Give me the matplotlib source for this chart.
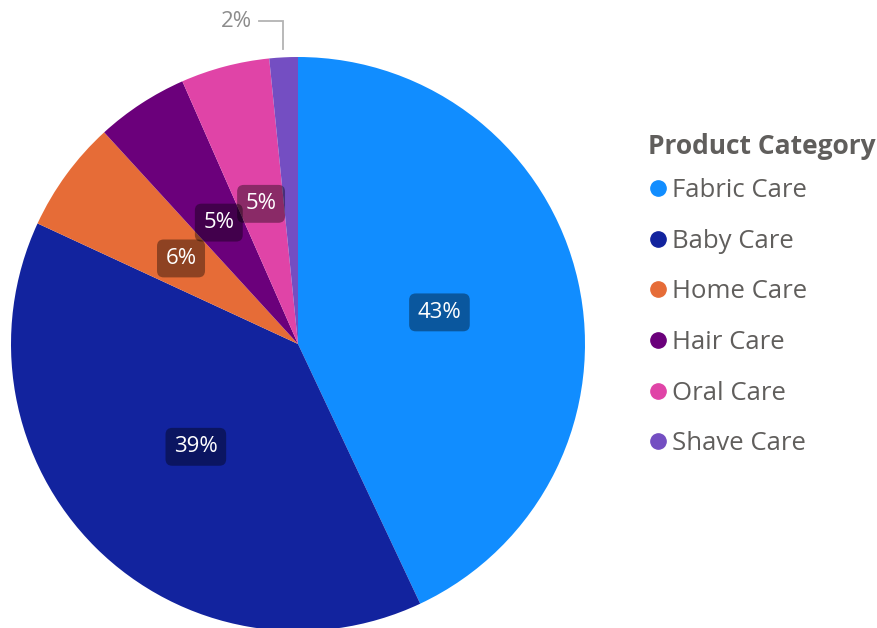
import numpy as np
import matplotlib.pyplot as plt
from matplotlib.lines import Line2D

categories = ['Fabric Care', 'Baby Care', 'Home Care', 'Hair Care', 'Oral Care', 'Shave Care']
shares = [43.0, 38.9, 6.3, 5.2, 5.0, 1.6]
colors = ['#118DFF', '#12239E', '#E66C37', '#6B007B', '#E044A7', '#744EC2']

TEXT = '#605E5C'
FONT = 'Open Sans'

W, H = 878, 628
cx, cy, R = 298, 344, 287  # pie centre and radius, pixels

fig = plt.figure(figsize=(W / 100, H / 100), dpi=100)
ax = fig.add_axes([0, 0, 1, 1])
ax.axis('off')

wedges, _ = ax.pie(shares, colors=colors, startangle=90, counterclock=False,
                   radius=1.0, wedgeprops=dict(linewidth=0))
ax.set_aspect('auto')
ax.set_xlim(-cx / R, (W - cx) / R)
ax.set_ylim(-(H - cy) / R, cy / R)

total = sum(shares)
start = 0.0
for name, val in zip(categories, shares):
    mid = np.deg2rad((start + val / 2) / total * 360)
    start += val
    label = f'{val / total * 100:.0f}%'
    if val / total < 0.03:
        # small slice: label outside with an elbow leader line
        ex, ey = np.sin(mid) * 1.03, np.cos(mid) * 1.03
        top = 1.125
        lx = ex - 0.084
        ax.plot([ex, ex, lx], [ey, top, top], color='#B3B3B3', lw=1.3,
                solid_joinstyle='miter', clip_on=False)
        ax.text(lx - 0.025, top, label, ha='right', va='center',
                fontsize=16, color='#8C8C8C', family=FONT)
    else:
        x, y = np.sin(mid) * 0.505, np.cos(mid) * 0.505
        ax.text(x, y, label, ha='center', va='center', fontsize=16,
                color='white', family=FONT,
                bbox=dict(boxstyle='round,pad=0.38,rounding_size=0.3',
                          fc=(0, 0, 0, 0.38), ec='none'))

# legend title drawn on its own so the gap below it can be set freely
fig.text(648 / W, 1 - 146 / H, 'Product Category', ha='left', va='center',
         fontsize=19, fontweight='bold', color=TEXT, family=FONT)

handles = [Line2D([], [], marker='o', linestyle='none', markersize=11,
                  markerfacecolor=c, markeredgecolor=c) for c in colors]
leg = ax.legend(handles, categories,
                loc='upper left', bbox_to_anchor=(651 / W, 1 - 178 / H),
                bbox_transform=fig.transFigure, frameon=False,
                handlelength=0.55, handletextpad=0.25,
                labelspacing=1.0, borderpad=0, borderaxespad=0,
                prop=dict(family=FONT, size=18.5))
for t in leg.get_texts():
    t.set_color(TEXT)

fig.savefig('out.png', dpi=100)
